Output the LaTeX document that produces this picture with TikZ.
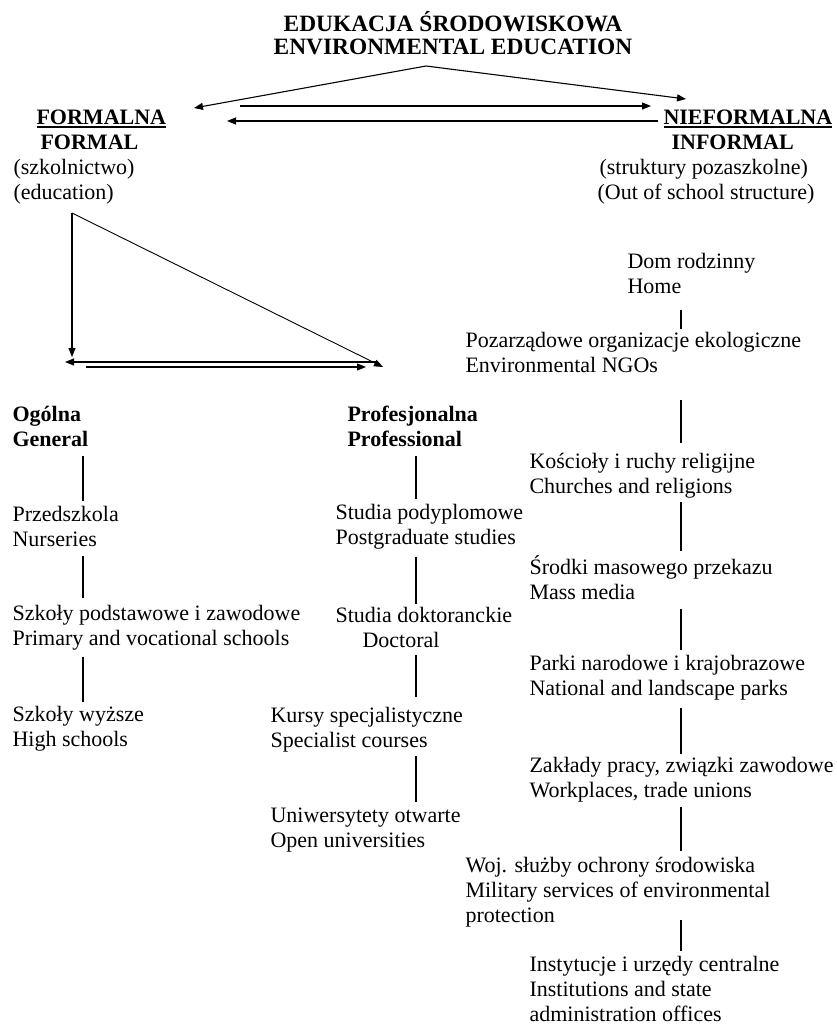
\documentclass[tikz,border=0pt]{standalone}
\usepackage{fontspec}
\setmainfont{Liberation Serif}
\usepackage{tikz}
\usetikzlibrary{arrows.meta,positioning,calc}
\newcommand{\ulhead}[1]{\vtop{\hbox{#1}\kern1.2pt\hrule height 1.8pt}}

\begin{document}
\begin{tikzpicture}[x=1pt, y=-1pt, >={Triangle[length=9pt,width=7pt]}, line width=1.1pt,
  txt/.style={anchor=west, align=left, inner sep=0pt, font=\fontsize{22}{25}\selectfont},
  hdr/.style={txt, font=\fontsize{22}{25}\selectfont\bfseries}]
  \useasboundingbox (0,0) rectangle (836,1025);
  % title and the two branches
  \node[hdr, anchor=center, align=center, font=\fontsize{23.4}{23}\selectfont\bfseries](title) at (453,33){EDUKACJA ŚRODOWISKOWA\\ENVIRONMENTAL EDUCATION};
  \node[txt](formal) at (13,157){\hspace*{23pt}\textbf{\ulhead{FORMALNA}}\\\hspace*{27pt}\textbf{FORMAL}\\(szkolnictwo)\\(education)};
  \node[txt](informal) at (597,157){\hspace*{66pt}\textbf{\ulhead{NIEFORMALNA}}\\\hspace*{74pt}\textbf{INFORMAL}\\\hspace*{2pt}(struktury pozaszkolne)\\(Out of school structure)};
  \coordinate (apex) at (426,66);
  \coordinate (tipF) at (194,108);
  \coordinate (tipN) at (686,99);
  \coordinate (hfa) at (240,106); \coordinate (hfb) at (651,106);
  \coordinate (hna) at (658,121); \coordinate (hnb) at (227,121);
  \draw[->](apex)--(tipF); \draw[->](apex)--(tipN);
  \draw[->](hfa)--(hfb); \draw[->](hna)--(hnb);
  % formal: general and professional
  \coordinate (fk) at (72,213);
  \coordinate (ogk) at (72,357);
  \coordinate (prk) at (383,367);
  \coordinate (ha) at (377,362); \coordinate (hb) at (65,362);
  \coordinate (hc) at (86,367); \coordinate (hd) at (366,367);
  \draw[->](fk)--(ogk); \draw[->, line width=0.9pt](fk)--(prk);
  \draw[->](ha)--(hb); \draw[->](hc)--(hd);
  \coordinate (cl) at (83,0); \coordinate (cm) at (416,0); \coordinate (cr) at (681,0);
  \node[hdr](ogolna) at (12,426.5){Ogólna\\General};
  \node[txt](przed) at (12,526.5){Przedszkola\\Nurseries};
  \node[txt](podst) at (12,627.5){Szkoły podstawowe i zawodowe\\Primary and vocational schools};
  \node[txt](wyzsze) at (12,728.5){Szkoły wyższe\\High schools};
  \node[hdr](prof) at (347,426.5){Profesjonalna\\Professional};
  \node[txt](podypl) at (335,526.5){Studia podyplomowe\\Postgraduate studies};
  \node[txt](dokt) at (335,627.5){Studia doktoranckie\\\hspace*{27pt}Doctoral};
  \node[txt](kursy) at (270,729.5){Kursy specjalistyczne\\Specialist courses};
  \node[txt](otwarte) at (270,830.5){Uniwersytety otwarte\\Open universities};
  \draw[shorten <=9pt, shorten >=5pt](ogolna.south -| cl)--(przed.north -| cl);
  \draw[shorten <=9pt, shorten >=6pt](przed.south -| cl)--(podst.north -| cl);
  \draw[shorten <=6pt, shorten >=3pt](podst.south -| cl)--(wyzsze.north -| cl);
  \draw[shorten <=9pt, shorten >=4pt](prof.south -| cm)--(podypl.north -| cm);
  \draw[shorten <=7pt, shorten >=3pt](podypl.south -| cm)--(dokt.north -| cm);
  \draw[shorten <=7pt, shorten >=9pt](dokt.south -| cm)--(kursy.north -| cm);
  \draw[shorten <=3pt, shorten >=6pt](kursy.south -| cm)--(otwarte.north -| cm);
  % informal
  \node[txt](dom) at (627,273.5){Dom rodzinny\\Home};
  \node[txt](ngo) at (465,352.5){Pozarządowe organizacje ekologiczne\\Environmental NGOs};
  \node[txt](kosc) at (529,476){Kościoły i ruchy religijne\\Churches and religions};
  \node[txt](media) at (529,578){Środki masowego przekazu\\Mass media};
  \node[txt](parki) at (529,678){Parki narodowe i krajobrazowe\\National and landscape parks};
  \node[txt](zaklady) at (529,780){Zakłady pracy, związki zawodowe\\Workplaces, trade unions};
  \node[txt](woj) at (465,892.5){Woj. służby ochrony środowiska\\Military services of environmental\\protection};
  \node[txt](inst) at (529,989){Instytucje i urzędy centralne\\Institutions and state\\administration offices};
  \draw[shorten <=16pt, shorten >=3pt](dom.south -| cr)--(ngo.north -| cr);
  \draw[shorten <=27pt, shorten >=10pt](ngo.south -| cr)--(kosc.north -| cr);
  \draw[shorten <=3pt, shorten >=4pt](kosc.south -| cr)--(media.north -| cr);
  \draw[shorten <=8pt, shorten >=5pt](media.south -| cr)--(parki.north -| cr);
  \draw[shorten <=7pt, shorten >=3pt](parki.south -| cr)--(zaklady.north -| cr);
  \draw[shorten <=4pt, shorten >=6pt](zaklady.south -| cr)--(woj.north -| cr);
  \draw[shorten <=-8pt, shorten >=5pt](woj.south -| cr)--(inst.north -| cr);
\end{tikzpicture}
\end{document}
